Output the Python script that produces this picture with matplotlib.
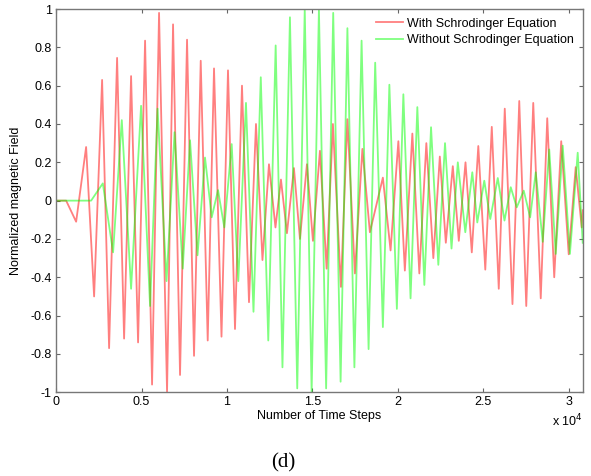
import matplotlib
matplotlib.use('Agg')
import matplotlib.pyplot as plt

# peaks / troughs (time steps, normalized field)
red_t = [0, 585, 1170, 1754, 2222, 2690, 3099, 3567, 3977, 4386, 4795, 5205,
         5614, 6023, 6491, 6842, 7251, 7661, 8070, 8462, 8871, 9240, 9678, 10058,
         10468, 10877, 11287, 11696, 12076, 12456, 12836, 13158, 13509, 13918,
         14269, 14678, 15029, 15439, 15830, 16199, 16667, 17047, 17485, 17924,
         18363, 19123, 19573, 20029, 20409, 20848, 21257, 21667, 22076, 22456,
         22807, 23216, 23567, 23959, 24327, 24708, 25117, 25497, 25906, 26257,
         26708, 27105, 27515, 27924, 28363, 28743, 29152, 29561, 30000, 30409,
         30760, 30820]
red_v = [0, 0, -0.11, 0.28, -0.50, 0.63, -0.77, 0.745, -0.72, 0.65, -0.74, 0.835,
         -0.96, 0.98, -1.0, 0.92, -0.91, 0.84, -0.81, 0.73, -0.73, 0.69, -0.71, 0.68,
         -0.67, 0.60, -0.53, 0.40, -0.31, 0.19, -0.14, 0.11, -0.17, 0.17,
         -0.2, 0.19, -0.21, 0.26, -0.355, 0.40, -0.45, 0.425, -0.38, 0.27,
         -0.165, 0.12, -0.26, 0.31, -0.365, 0.35, -0.38, 0.30, -0.30, 0.23,
         -0.22, 0.18, -0.21, 0.20, -0.27, 0.285, -0.36, 0.385, -0.46, 0.48,
         -0.54, 0.52, -0.55, 0.51, -0.51, 0.43, -0.40, 0.31, -0.28, 0.175,
         -0.14, -0.05]

green_t = [0, 2047, 2731, 3333, 3842, 4386, 4971, 5497, 5936, 6462, 6930, 7409,
           7836, 8275, 8713, 9105, 9474, 9842, 10275, 10661, 11111, 11550, 11977,
           12415, 12848, 13246, 13684, 14111, 14550, 14953, 15380, 15801, 16216,
           16649, 17047, 17456, 17877, 18287, 18673, 19123, 19503, 19942, 20322,
           20743, 21140, 21550, 21942, 22368, 22760, 23140, 23509, 23947, 24357,
           24649, 25058, 25409, 25848, 26240, 26608, 26959, 27368, 27743, 28070,
           28480, 28860, 29240, 29649, 30070, 30526, 30820]
green_v = [0, 0, 0.09, -0.27, 0.42, -0.46, 0.495, -0.55, 0.48, -0.42, 0.357, -0.355,
           0.315, -0.285, 0.225, -0.087, 0.055, -0.14, 0.295, -0.42, 0.51, -0.58, 0.644,
           -0.73, 0.81, -0.87, 0.957, -0.98, 1.0, -1.0, 1.0, -0.98, 0.98,
           -0.945, 0.90, -0.87, 0.835, -0.775, 0.72, -0.66, 0.605, -0.565, 0.555,
           -0.51, 0.488, -0.44, 0.383, -0.335, 0.30, -0.25, 0.20, -0.165, 0.148,
           -0.114, 0.104, -0.096, 0.118, -0.104, 0.07, -0.035, 0.052, -0.087, 0.148,
           -0.215, 0.267, -0.278, 0.287, -0.278, 0.25, -0.22]

xticks = [0, 5000, 10000, 15000, 20000, 25000, 30000]
xtick_labels = ['0', '0.5', '1', '1.5', '2', '2.5', '3']
yticks = [-1, -0.8, -0.6, -0.4, -0.2, 0, 0.2, 0.4, 0.6, 0.8, 1]
ytick_labels = ['-1', '-0.8', '-0.6', '-0.4', '-0.2', '0', '0.2', '0.4', '0.6', '0.8', '1']

plt.rcParams['font.family'] = ['Liberation Sans', 'DejaVu Sans']

fig = plt.figure(figsize=(5.91, 4.76), dpi=100)
ax = fig.add_axes([0.095, 0.176, 0.891, 0.805])

ax.plot(red_t, red_v, color='red', alpha=0.5, lw=1.3, solid_joinstyle='round',
        label='With Schrodinger Equation')
ax.plot(green_t, green_v, color='lime', alpha=0.5, lw=1.3, solid_joinstyle='round',
        label='Without Schrodinger Equation')

ax.set_xlim(0, 30820)
ax.set_ylim(-1, 1)
ax.set_xticks(xticks)
ax.set_xticklabels(xtick_labels)
ax.set_yticks(yticks)
ax.set_yticklabels(ytick_labels)
ax.tick_params(direction='in', top=True, right=True, length=3, labelsize=9,
               color='#666666', pad=3)
for s in ax.spines.values():
    s.set_color('#777777')
    s.set_linewidth(1.0)

ax.set_xlabel('Number of Time Steps', fontsize=9, labelpad=1)
ax.set_ylabel('Normalized magnetic Field', fontsize=9, labelpad=6)
ax.text(1.0, -0.075, r'x 10$^4$', transform=ax.transAxes, ha='right', va='center', fontsize=9)

leg = ax.legend(loc='upper right', frameon=False, fontsize=9, handlelength=2.2,
                handletextpad=0.3, borderaxespad=0.3, labelspacing=0.35)

fig.text(0.479, 0.028, '(d)', family='Liberation Serif', fontsize=15, ha='center', va='center')

plt.savefig('out.png', dpi=100)
plt.close()
